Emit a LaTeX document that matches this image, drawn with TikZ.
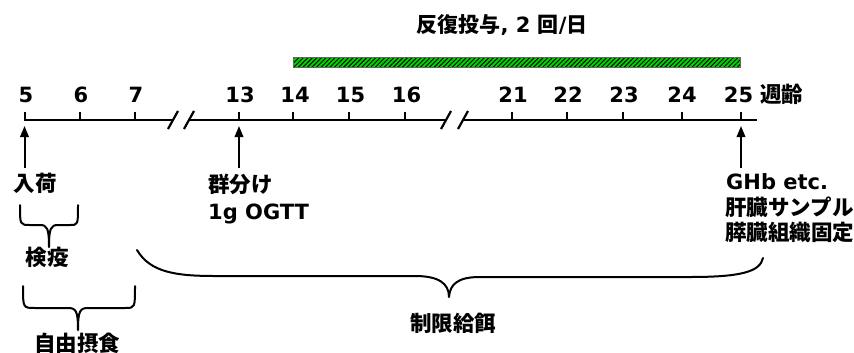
\documentclass[tikz,border=0pt]{standalone}
\usepackage{fontspec}
\setmainfont{DejaVu Sans}
\newfontfamily\jp{Noto Sans CJK JP}
\usetikzlibrary{arrows.meta,patterns.meta}
\definecolor{barGreen}{RGB}{0,210,0}
\tikzset{
  lat/.style={font=\bfseries\fontsize{21bp}{24bp}\selectfont, inner sep=0pt},
  jpl/.style={font=\jp\bfseries\fontsize{21.5bp}{25bp}\selectfont, inner sep=0pt},
  axisline/.style={line width=2.2bp},
  tickmark/.style={line width=2bp},
  brk/.style={line width=2.2bp},
  uparrow/.style={line width=2bp, -{Triangle[length=11bp,width=8.5bp]}},
  bracel/.style={line width=2bp, line join=round, line cap=round},
}
\begin{document}
\begin{tikzpicture}[x=1bp,y=-1bp]
\useasboundingbox (0,0) rectangle (854,352);
% tick coordinates
\foreach \n/\x/\d in {5/24.5/1.5,6/80/1,7/135/1,13/239/1,14/293/2,15/349/1.5,16/405/1.5,21/512/1,22/567/1,23/623/1,24/682/0,25/741/-2.5}{
  \coordinate (t\n) at (\x,120);
  \coordinate (u\n) at (\x,112);
  \draw[tickmark] (t\n) -- (u\n);
  \node[lat] (n\n) at (\x+\d,95) {\n};
}
% axis segments
\coordinate (a0) at (23.5,120);
\coordinate (a1) at (173,120);
\coordinate (b0) at (190,120);
\coordinate (b1) at (447,120);
\coordinate (c0) at (463,120);
\coordinate (c1) at (757,120);
\draw[axisline] (a0) -- (a1);
\draw[axisline] (b0) -- (b1);
\draw[axisline] (c0) -- (c1);
% break marks
\coordinate (s1a) at (168,129); \coordinate (s1b) at (178,111);
\coordinate (s2a) at (184,129); \coordinate (s2b) at (194,111);
\coordinate (s3a) at (441,129); \coordinate (s3b) at (451,111);
\coordinate (s4a) at (458,129); \coordinate (s4b) at (468,111);
\draw[brk] (s1a) -- (s1b);
\draw[brk] (s2a) -- (s2b);
\draw[brk] (s3a) -- (s3b);
\draw[brk] (s4a) -- (s4b);
\node[jpl, anchor=west] (shurei) at (760,94) {週齢};
% dosing bar
\coordinate (g0) at (293,57);
\coordinate (g1) at (740,67.5);
\fill[barGreen] (g0) rectangle (g1);
\fill[pattern={Lines[angle=45,distance=3.2bp,line width=0.95bp]}, pattern color=black] (g0) rectangle (g1);
\draw[line width=0.8bp, black!60] (g0) rectangle (g1);
\node[lat] (title) at (502,25) {{\jp 反復投与}, 2 {\jp 回}/{\jp 日}};
% arrows
\coordinate (p5) at (24.5,168);
\coordinate (q5) at (24.5,126);
\coordinate (p13) at (239,168);
\coordinate (q13) at (239,126);
\coordinate (p25) at (741,168);
\coordinate (q25) at (741,126);
\draw[uparrow] (p5) -- (q5);
\draw[uparrow] (p13) -- (q13);
\draw[uparrow] (p25) -- (q25);
% labels
\node[jpl] (nyuka) at (35,183) {入荷};
\node[jpl, anchor=west] (gunwake) at (208,184) {群分け};
\node[lat, anchor=west] (ogtt) at (208,214) {1g OGTT};
\node[lat, anchor=west] (ghb) at (726,182) {GHb etc.};
\node[jpl, anchor=west] (kanzo) at (725,207.5) {肝臓サンプル};
\node[jpl, anchor=west] (suizo) at (725,232) {膵臓組織固定};
% brace 1
\draw[bracel] (20,205) .. controls (20,225) and (20,225) .. (30,225) -- (40,225)
  .. controls (47,225) and (49,228) .. (49,247)
  .. controls (49,228) and (51,225) .. (58,225) -- (70,225)
  .. controls (78,225) and (78,225) .. (78,205);
\node[jpl] (kenneki) at (47,257) {検疫};
% brace 2
\draw[bracel] (23,286) .. controls (23,308) and (23,308) .. (35,308) -- (68,308)
  .. controls (76,308) and (78,311) .. (78,330)
  .. controls (78,311) and (80,308) .. (88,308) -- (125,308)
  .. controls (135,308) and (135,308) .. (135,286);
\node[jpl] (jiyu) at (77,343) {自由摂食};
% big brace
\draw[bracel] (137,250) .. controls (150,272) and (175,276) .. (215,276) -- (415,276)
  .. controls (438,276) and (449,283) .. (449,297)
  .. controls (450,284) and (458,277) .. (480,277) -- (690,277)
  .. controls (740,277) and (760,272) .. (763,258);
\node[jpl] (seigen) at (453,323) {制限給餌};
\end{tikzpicture}
\end{document}
